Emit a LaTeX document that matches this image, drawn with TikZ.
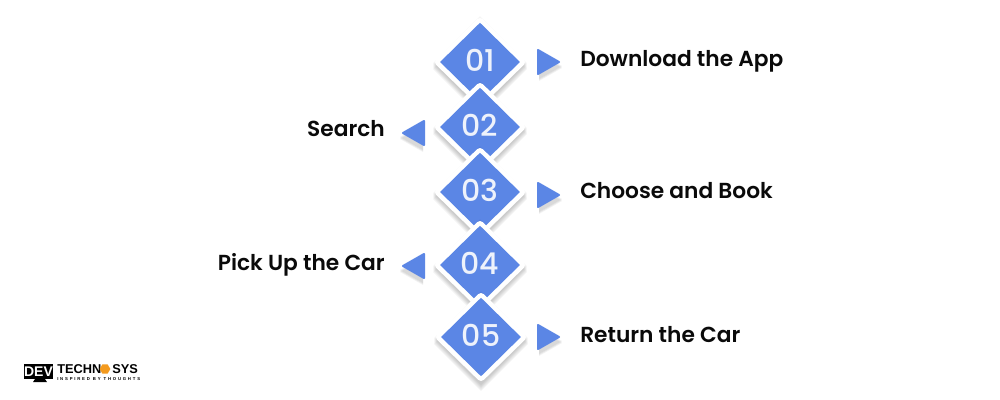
\documentclass[tikz,border=0pt]{standalone}
\usepackage{fontspec}
\setmainfont{Poppins}
\newfontfamily\popsemi{Poppins SemiBold}
\newfontfamily\popmed{Poppins Medium}
\newfontfamily\heros{Liberation Sans}
\newfontfamily\herostag[LetterSpace=42]{Liberation Sans}
\usetikzlibrary{shapes.geometric,calc}
\definecolor{stepblue}{HTML}{5B86E5}
\definecolor{digitwhite}{HTML}{EEF2FB}
\definecolor{labelink}{HTML}{0A0A0A}
\definecolor{logoorange}{HTML}{F39A1E}
\tikzset{
  x=0.75pt,y=-0.75pt,
  stepdiamond/.style={shape=diamond,aspect=1,fill=stepblue,minimum width=60pt,minimum height=59pt,inner sep=0pt,text=digitwhite,text height=15.7pt,text depth=2pt,font={\popmed\fontsize{22.5}{22.5}\selectfont}},
  steplabel/.style={text=labelink,inner sep=0pt,font={\popsemi\fontsize{16.3}{20}\selectfont}},
  halo/.style={fill=white,draw=white,line width=6pt,line join=round},
  softshadow/.style={fill=black,fill opacity=0.035,draw=none},
  arrowtri/.style={fill=stepblue,draw=stepblue,line width=1.5pt,line join=round},
  arrowshadow/.style={fill=black,fill opacity=0.05,draw=none},
}
\newcommand{\stepshape}[4]{%
  \foreach \d in {1,2,3,4,5,6}{
    \fill[softshadow] (#2,#3-47+\d*1.2) -- (#2+47,#3+\d*1.2) -- (#2,#3+47+\d*1.2) -- (#2-47,#3+\d*1.2) -- cycle;
  }
  \path[halo] (#2,#3-40) -- (#2+41,#3) -- (#2,#3+40) -- (#2-41,#3) -- cycle;
  \node[stepdiamond] (#1) at (#2,#3) {#4};
}
\newcommand{\rightarrowtri}[3]{%
  \foreach \d in {1,2,3}{\fill[arrowshadow] (#2-20,#3-10+\d) -- (#2+3,#3+3+\d) -- (#2-20,#3+16+\d) -- cycle;}
  \path[arrowtri] (#2-21,#3-12) -- (#2,#3) -- (#2-21,#3+12) -- cycle;
  \coordinate (#1) at (#2,#3);
}
\newcommand{\leftarrowtri}[3]{%
  \foreach \d in {1,2,3}{\fill[arrowshadow] (#2+20,#3-10+\d) -- (#2-3,#3+3+\d) -- (#2+20,#3+16+\d) -- cycle;}
  \path[arrowtri] (#2+21,#3-12) -- (#2,#3) -- (#2+21,#3+12) -- cycle;
  \coordinate (#1) at (#2,#3);
}
\begin{document}
\begin{tikzpicture}
\useasboundingbox (0,0) rectangle (1000,400);
\fill[white] (0,0) rectangle (1000,400);

\stepshape{s1}{480}{62}{01}
\stepshape{s2}{480}{127}{02}
\stepshape{s3}{480}{192}{03}
\stepshape{s4}{480}{265}{04}
\stepshape{s5}{481}{337}{05}

\rightarrowtri{a1}{559}{62}
\leftarrowtri{a2}{403}{133}
\rightarrowtri{a3}{559}{195}
\leftarrowtri{a4}{403}{266}
\rightarrowtri{a5}{559}{337}

\node[steplabel,anchor=base west] (l1) at (580,66) {Download the App};
\node[steplabel,anchor=base east] (l2) at (385,136) {Search};
\node[steplabel,anchor=base west] (l3) at (580,198) {Choose and Book};
\node[steplabel,anchor=base east] (l4) at (385,270) {Pick Up the Car};
\node[steplabel,anchor=base west] (l5) at (580,342) {Return the Car};

% logo
\fill[black] (24,364) rectangle (53,379);
\fill[black] (35,379) -- (45,379) -- (47,382) -- (33,382) -- cycle;
\node[text=white,inner sep=0pt,font={\heros\bfseries\fontsize{10.5}{10.5}\selectfont}] (logodev) at (38.5,371.5) {DEV};
\node[anchor=base west,text=black,inner sep=0pt,font={\heros\bfseries\fontsize{9.6}{9.6}\selectfont}] (logotech) at (57,373) {TECHN};
\node[regular polygon,regular polygon sides=6,fill=logoorange,inner sep=0pt,minimum size=8pt] (logohex) at (105,369) {};
\node[anchor=base west,text=black,inner sep=0pt,font={\heros\bfseries\fontsize{9.6}{9.6}\selectfont}] (logosys) at (112,373) {SYS};
\node[anchor=base west,text=black,inner sep=0pt,font={\herostag\bfseries\fontsize{3.2}{3.2}\selectfont}] (logotag) at (57,380) {INSPIRED BY THOUGHTS};
\end{tikzpicture}
\end{document}
